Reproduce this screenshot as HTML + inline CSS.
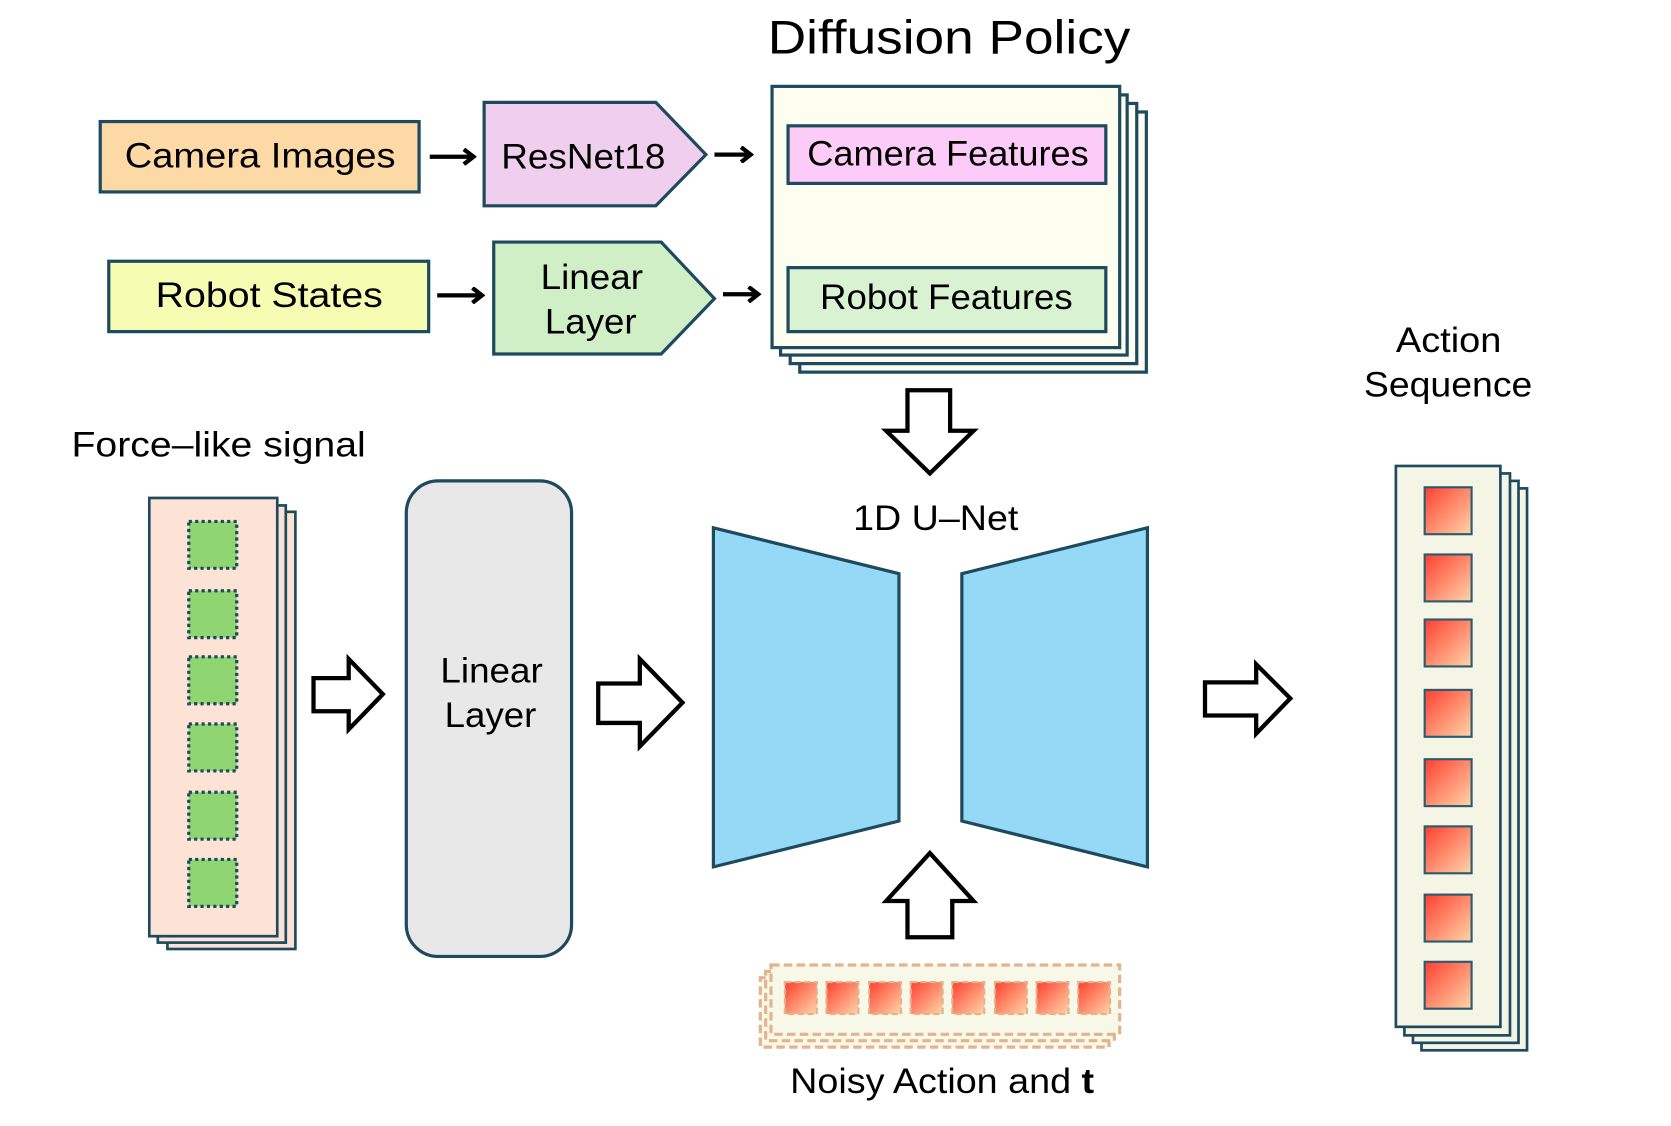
<!DOCTYPE html>
<html><head><meta charset="utf-8"><style>html,body{margin:0;padding:0;background:#fff}svg{display:block}</style></head>
<body>
<svg width="1671" height="1126" viewBox="0 0 1567 1056" preserveAspectRatio="none" xmlns="http://www.w3.org/2000/svg" font-family="Liberation Sans, sans-serif">
<defs>
<linearGradient id="rg" x1="0" y1="0" x2="1" y2="1"><stop offset="0" stop-color="#ff3f30"/><stop offset="1" stop-color="#ffd6a8"/></linearGradient>
<marker id="ah" markerWidth="14" markerHeight="16" refX="10" refY="8" orient="auto" markerUnits="userSpaceOnUse"><path d="M2,1 L11,8 L2,15" fill="none" stroke="#000" stroke-width="4"/></marker>
</defs>
<g stroke="#1d4a5e" stroke-width="3">
<text x="720" y="50" font-size="44" textLength="340" lengthAdjust="spacingAndGlyphs" stroke="none" fill="#000">Diffusion Policy</text>
<rect x="94" y="114" width="299" height="66" fill="#fdd9a6"/>
<text x="117" y="157" font-size="33" textLength="254" lengthAdjust="spacingAndGlyphs" stroke="none" fill="#000">Camera Images</text>
<polygon points="454,96 615,96 662,145 615,193 454,193" fill="#f0cfee"/>
<text x="470" y="158" font-size="33" textLength="154" lengthAdjust="spacingAndGlyphs" stroke="none" fill="#000">ResNet18</text>
<rect x="102" y="245" width="300" height="66" fill="#f7fcb3"/>
<text x="146" y="288" font-size="33" textLength="213" lengthAdjust="spacingAndGlyphs" stroke="none" fill="#000">Robot States</text>
<polygon points="463,227 620,227 670,280 620,332 463,332" fill="#d1efc6"/>
<text x="507" y="271" font-size="33" textLength="96" lengthAdjust="spacingAndGlyphs" stroke="none" fill="#000">Linear</text>
<text x="511" y="313" font-size="33" textLength="86" lengthAdjust="spacingAndGlyphs" stroke="none" fill="#000">Layer</text>
<rect x="750" y="105" width="325" height="244" fill="#fdfdf0"/>
<rect x="741" y="97" width="325" height="244" fill="#fdfdf0"/>
<rect x="732" y="89" width="325" height="244" fill="#fdfdf0"/>
<rect x="724" y="81" width="326" height="245" fill="#fdfdf0"/>
<rect x="739" y="118" width="298" height="54" fill="#fccbf7"/>
<text x="757" y="155" font-size="33" textLength="264" lengthAdjust="spacingAndGlyphs" stroke="none" fill="#000">Camera Features</text>
<rect x="739" y="251" width="298" height="60" fill="#d8f2d2"/>
<text x="769" y="290" font-size="33" textLength="237" lengthAdjust="spacingAndGlyphs" stroke="none" fill="#000">Robot Features</text>
</g>
<g stroke="#000" stroke-width="4" marker-end="url(#ah)">
<line x1="403" y1="147" x2="443" y2="147"/>
<line x1="670" y1="145" x2="703" y2="145"/>
<line x1="410" y1="277" x2="451" y2="277"/>
<line x1="678" y1="276" x2="710" y2="276"/>
</g>
<g fill="#fff" stroke="#000" stroke-width="4" stroke-linejoin="miter">
<polygon points="851,366 891,366 891,404 913,404 872,444 831,404 851,404"/>
<polygon points="872,800 913,845 893,845 893,879 851,879 851,845 831,845"/>
<polygon points="294,636 327,636 327,618 359,651 327,684 327,667 294,667"/>
<polygon points="561,641 600,641 600,618 640,659 600,700 600,678 561,678"/>
<polygon points="1130,640 1178,640 1178,623 1210,655 1178,688 1178,671 1130,671"/>
</g>
<text x="67" y="428" font-size="33" textLength="276" lengthAdjust="spacingAndGlyphs" fill="#000">Force–like signal</text>
<g stroke="#1d4a5e" stroke-width="2.5">
<rect x="157" y="480" width="120" height="410" fill="#fde3d6"/>
<rect x="148" y="474" width="120" height="410" fill="#fde3d6"/>
<rect x="140" y="467" width="120" height="411" fill="#fde3d6"/>
</g>
<g fill="#8fd672" stroke="#1d4a5e" stroke-width="3" stroke-dasharray="3,3">
<rect x="177" y="489" width="45" height="44"/><rect x="177" y="554" width="45" height="44"/>
<rect x="177" y="616" width="45" height="44"/><rect x="177" y="679" width="45" height="44"/>
<rect x="177" y="743" width="45" height="44"/><rect x="177" y="806" width="45" height="44"/>
</g>
<rect x="381" y="451" width="155" height="446" rx="30" fill="#e8e8e8" stroke="#1d4a5e" stroke-width="3"/>
<text x="413" y="640" font-size="33" textLength="96" lengthAdjust="spacingAndGlyphs" fill="#000">Linear</text>
<text x="417" y="682" font-size="33" textLength="86" lengthAdjust="spacingAndGlyphs" fill="#000">Layer</text>
<g fill="#95d9f6" stroke="#1d4a5e" stroke-width="3">
<polygon points="669,495 843,538 843,770 669,813"/>
<polygon points="902,538 1076,495 1076,813 902,770"/>
</g>
<text x="800" y="497" font-size="33" textLength="155" lengthAdjust="spacingAndGlyphs" fill="#000">1D U–Net</text>
<g stroke="#e2b48e" stroke-width="3" stroke-dasharray="8,4" fill="#f8f8e8">
<rect x="713" y="917" width="327" height="65"/>
<rect x="718" y="911" width="327" height="65"/>
<rect x="723" y="905" width="327" height="65"/>
</g>
<g fill="url(#rg)" stroke="#e2b48e" stroke-width="2" stroke-dasharray="6,3">
<rect x="736" y="921" width="30" height="30"/><rect x="775" y="921" width="30" height="30"/>
<rect x="815" y="921" width="30" height="30"/><rect x="854" y="921" width="30" height="30"/>
<rect x="893" y="921" width="30" height="30"/><rect x="933" y="921" width="30" height="30"/>
<rect x="972" y="921" width="30" height="30"/><rect x="1011" y="921" width="30" height="30"/>
</g>
<text x="741" y="1025" font-size="33" textLength="285" lengthAdjust="spacingAndGlyphs" fill="#000">Noisy Action and <tspan font-weight="bold">t</tspan></text>
<text x="1309" y="330" font-size="33" textLength="99" lengthAdjust="spacingAndGlyphs" fill="#000">Action</text>
<text x="1279" y="372" font-size="33" textLength="158" lengthAdjust="spacingAndGlyphs" fill="#000">Sequence</text>
<g stroke="#1d4a5e" stroke-width="2.5" fill="#f5f5e6">
<rect x="1333" y="458" width="99" height="527"/>
<rect x="1325" y="451" width="99" height="527"/>
<rect x="1317" y="444" width="99" height="527"/>
<rect x="1309" y="437" width="98" height="526"/>
</g>
<g fill="url(#rg)" stroke="#2d5a6e" stroke-width="2">
<rect x="1336" y="457" width="44" height="44"/><rect x="1336" y="520" width="44" height="44"/>
<rect x="1336" y="581" width="44" height="44"/><rect x="1336" y="647" width="44" height="44"/>
<rect x="1336" y="712" width="44" height="44"/><rect x="1336" y="775" width="44" height="44"/>
<rect x="1336" y="839" width="44" height="44"/><rect x="1336" y="902" width="44" height="44"/>
</g>
</svg>
</body></html>
